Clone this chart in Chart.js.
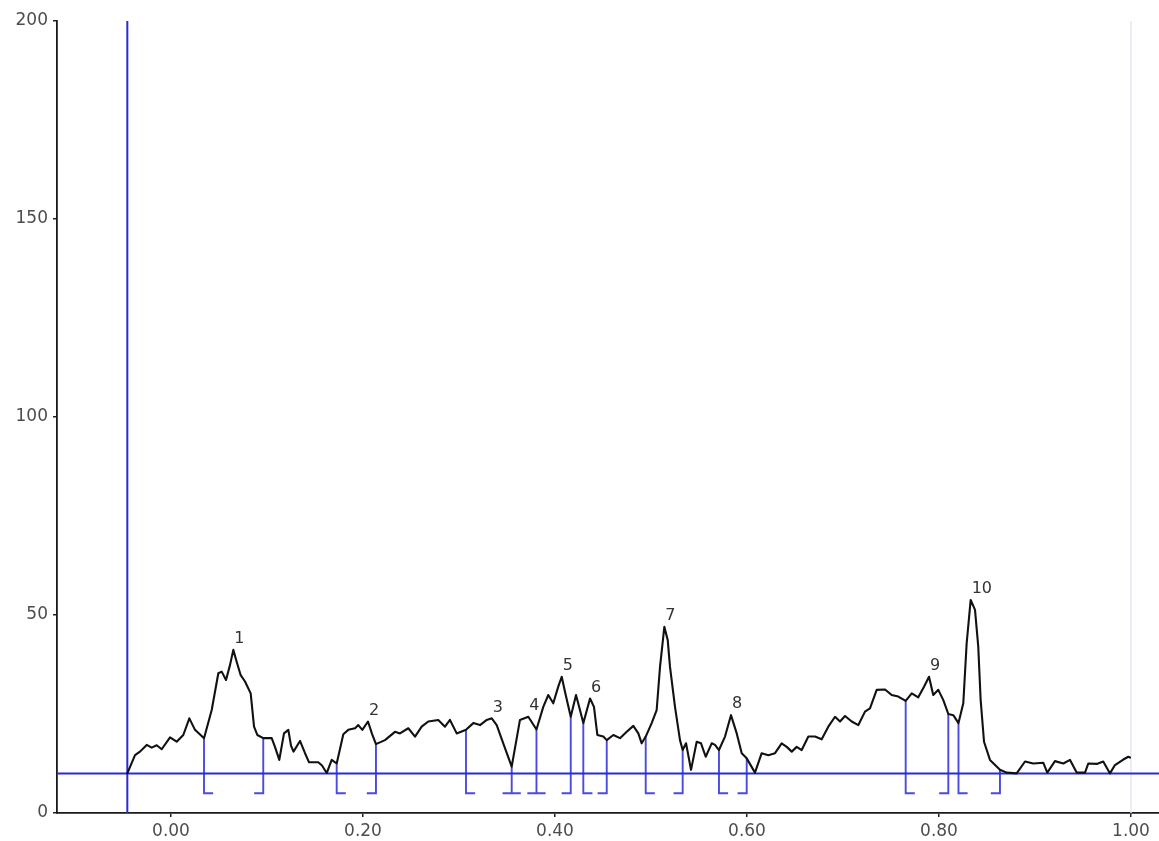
<!DOCTYPE html>
<html>
<head>
<meta charset="utf-8">
<script src="https://cdn.jsdelivr.net/npm/chart.js@4.4.1/dist/chart.umd.min.js"></script>
<style>
  html, body { margin: 0; padding: 0; background: #ffffff; }
  #wrap { width: 1159px; height: 841px; }
</style>
</head>
<body>
<div id="wrap"><canvas id="chart" width="1159" height="841"></canvas></div>
<script>
// Densitometric profile along the lane (relative front position vs. intensity)
const sigX = [
  -0.0455, -0.0375, -0.0323, -0.0253, -0.0201, -0.0149, -0.0097, -0.0010, 0.0059, 0.0128,
  0.0191, 0.0250, 0.0344, 0.0424, 0.0493, 0.0528, 0.0573, 0.0615, 0.0649, 0.0684,
  0.0726, 0.0771, 0.0830, 0.0865, 0.0899, 0.0961, 0.1049, 0.1083, 0.1128, 0.1177,
  0.1222, 0.1250, 0.1276, 0.1344, 0.1396, 0.1438, 0.1534, 0.1573, 0.1622, 0.1674,
  0.1726, 0.1795, 0.1847, 0.1917, 0.1951, 0.1993, 0.2052, 0.2094, 0.2135, 0.2229,
  0.2333, 0.2385, 0.2472, 0.2542, 0.2611, 0.2680, 0.2784, 0.2854, 0.2906, 0.2976,
  0.3073, 0.3149, 0.3219, 0.3289, 0.3341, 0.3393, 0.3461, 0.3549, 0.3635, 0.3722,
  0.3807, 0.3878, 0.3930, 0.3982, 0.4034, 0.4070, 0.4104, 0.4164, 0.4219, 0.4260,
  0.4295, 0.4365, 0.4406, 0.4441, 0.4503, 0.4539, 0.4608, 0.4677, 0.4747, 0.4816,
  0.4868, 0.4903, 0.4945, 0.5007, 0.5059, 0.5094, 0.5139, 0.5174, 0.5198, 0.5250,
  0.5302, 0.5330, 0.5365, 0.5417, 0.5476, 0.5521, 0.5570, 0.5632, 0.5667, 0.5708,
  0.5771, 0.5833, 0.5893, 0.5945, 0.5997, 0.6083, 0.6153, 0.6222, 0.6292, 0.6361,
  0.6414, 0.6466, 0.6518, 0.6570, 0.6639, 0.6708, 0.6778, 0.6847, 0.6917, 0.6969,
  0.7021, 0.7091, 0.7160, 0.7229, 0.7281, 0.7351, 0.7438, 0.7507, 0.7576, 0.7653,
  0.7716, 0.7784, 0.7844, 0.7896, 0.7940, 0.7993, 0.8045, 0.8097, 0.8149, 0.8203,
  0.8253, 0.8288, 0.8330, 0.8375, 0.8409, 0.8434, 0.8469, 0.8531, 0.8635, 0.8705,
  0.8809, 0.8896, 0.8982, 0.9086, 0.9128, 0.9208, 0.9295, 0.9365, 0.9434, 0.9521,
  0.9555, 0.9643, 0.9711, 0.9781, 0.9833, 0.9920, 0.9972, 0.9990
];
const sigY = [
  10.0, 14.6, 15.5, 17.2, 16.5, 17.1, 16.1, 19.1, 18.0, 19.7,
  23.9, 21.0, 18.9, 26.0, 35.3, 35.7, 33.6, 37.4, 41.2, 38.2,
  34.8, 33.2, 30.2, 21.8, 19.7, 18.9, 18.9, 16.7, 13.4, 20.1,
  21.0, 17.0, 15.5, 18.2, 15.1, 12.8, 12.8, 12.0, 10.1, 13.4,
  12.5, 19.9, 21.0, 21.4, 22.2, 21.0, 23.1, 20.0, 17.4, 18.4,
  20.5, 20.1, 21.4, 19.3, 21.8, 23.1, 23.5, 21.8, 23.5, 20.1,
  21.0, 22.7, 22.2, 23.5, 23.9, 22.2, 17.6, 11.7, 23.5, 24.3,
  21.1, 26.8, 29.8, 27.7, 31.9, 34.4, 30.6, 24.3, 29.8, 26.0,
  22.7, 28.9, 26.8, 19.7, 19.3, 18.4, 19.7, 18.9, 20.5, 22.0,
  20.1, 17.6, 19.3, 22.7, 26.0, 36.9, 47.0, 43.7, 36.9, 26.8,
  18.4, 15.9, 17.6, 10.9, 18.0, 17.6, 14.2, 17.6, 17.2, 15.9,
  19.3, 24.7, 20.1, 15.1, 13.8, 10.2, 15.1, 14.6, 15.1, 17.6,
  16.7, 15.5, 16.7, 15.9, 19.3, 19.3, 18.6, 21.8, 24.3, 23.1,
  24.5, 23.1, 22.2, 25.6, 26.4, 31.1, 31.2, 29.8, 29.4, 28.3,
  30.2, 29.2, 31.9, 34.4, 29.8, 31.1, 28.5, 25.0, 24.7, 22.7,
  27.7, 42.8, 53.8, 51.3, 42.0, 28.5, 18.0, 13.4, 10.9, 10.2,
  10.0, 13.0, 12.5, 12.7, 10.2, 13.1, 12.5, 13.4, 10.2, 10.2,
  12.5, 12.4, 13.0, 10.0, 12.1, 13.5, 14.2, 14.0
];

// Detected peaks: apex positions and numbering
const peakLabels = ['1', '2', '3', '4', '5', '6', '7', '8', '9', '10'];
const peakX = [0.0649, 0.2052, 0.3341, 0.3722, 0.4070, 0.4365, 0.5139, 0.5833, 0.7896, 0.8330];
const peakY = [41.2, 23.1, 23.9, 24.3, 34.4, 28.9, 47.0, 24.7, 34.4, 53.8];

// Integration limits of each peak
const peakStart = [0.0344, 0.1726, 0.3073, 0.3549, 0.3807, 0.4295, 0.4945, 0.5708, 0.7653, 0.8203];
const peakEnd   = [0.0961, 0.2135, 0.3549, 0.3807, 0.4164, 0.4539, 0.5330, 0.5997, 0.8097, 0.8635];

// Reference lines
const baselineLevel = 10;
const applicationPos = -0.0455;
const solventFront = 1.0;
const bracketLevel = 5;

// Axis ticks
const xTicks = [0.0, 0.2, 0.4, 0.6, 0.8, 1.0];
const yTicks = [0, 50, 100, 150, 200];

const X_MIN = -0.11875, X_MAX = 1.02917, Y_MIN = 0, Y_MAX = 200;
const BRACKET_W = 0.0095;
const BLUE = '#2a2ad8';

function signalAt(x) {
  for (let i = 1; i < sigX.length; i++) {
    if (x <= sigX[i]) {
      const t = (x - sigX[i - 1]) / (sigX[i] - sigX[i - 1]);
      return sigY[i - 1] + t * (sigY[i] - sigY[i - 1]);
    }
  }
  return sigY[sigY.length - 1];
}

const signal = sigX.map((x, i) => ({ x: x, y: sigY[i] }));

// Bracket-shaped limit markers: vertical drop from the profile, short foot inward
const brackets = [];
peakStart.forEach(x => {
  brackets.push({ x: x, y: signalAt(x) }, { x: x, y: bracketLevel }, { x: x + BRACKET_W, y: bracketLevel }, { x: x, y: null });
});
peakEnd.forEach(x => {
  brackets.push({ x: x, y: signalAt(x) }, { x: x, y: bracketLevel }, { x: x - BRACKET_W, y: bracketLevel }, { x: x, y: null });
});

const peakLabelPlugin = {
  id: 'peakLabels',
  afterDatasetsDraw(chart) {
    const { ctx, scales } = chart;
    ctx.save();
    ctx.font = '16px "DejaVu Sans", sans-serif';
    ctx.fillStyle = '#333333';
    ctx.textAlign = 'left';
    ctx.textBaseline = 'bottom';
    peakLabels.forEach((lab, i) => {
      const px = scales.x.getPixelForValue(peakX[i]);
      const py = scales.y.getPixelForValue(peakY[i]);
      ctx.fillText(lab, px + 1, py - 3);
    });
    ctx.restore();
  }
};

new Chart(document.getElementById('chart'), {
  type: 'scatter',
  data: {
    datasets: [
      {
        label: 'profile', data: signal, showLine: true, borderColor: '#111111',
        borderWidth: 2.1, borderJoinStyle: 'round', borderCapStyle: 'round',
        pointRadius: 0, tension: 0, order: 0
      },
      {
        label: 'limits', data: brackets, showLine: true, spanGaps: false,
        borderColor: 'rgba(42,42,216,0.85)', borderWidth: 1.9, pointRadius: 0, order: 1
      },
      {
        label: 'baseline', data: [{ x: X_MIN, y: baselineLevel }, { x: X_MAX, y: baselineLevel }],
        showLine: true, borderColor: BLUE, borderWidth: 2, pointRadius: 0, order: 2
      },
      {
        label: 'application', data: [{ x: applicationPos, y: Y_MIN }, { x: applicationPos, y: Y_MAX }],
        showLine: true, borderColor: BLUE, borderWidth: 2, pointRadius: 0, order: 2
      },
      {
        label: 'front', data: [{ x: solventFront, y: Y_MIN }, { x: solventFront, y: Y_MAX }],
        showLine: true, borderColor: '#e6e6f4', borderWidth: 1.5, pointRadius: 0, order: 3
      }
    ]
  },
  options: {
    responsive: false,
    animation: false,
    layout: { padding: { top: 21, right: 0, bottom: 0, left: 0 } },
    plugins: { legend: { display: false }, tooltip: { enabled: false } },
    scales: {
      x: {
        type: 'linear', min: X_MIN, max: X_MAX,
        afterBuildTicks(s) { s.ticks = xTicks.map(v => ({ value: v })); },
        afterFit(s) { s.height = 28; },
        grid: { drawOnChartArea: false, drawTicks: true, tickLength: 4, color: '#222222', lineWidth: 1.5 },
        border: { display: true, color: '#1a1a1a', width: 1.8 },
        ticks: {
          padding: 4, color: '#4d4d4d', maxRotation: 0, autoSkip: false,
          font: { family: '"DejaVu Sans", sans-serif', size: 17 },
          callback: v => Number(v).toFixed(2)
        }
      },
      y: {
        type: 'linear', min: Y_MIN, max: Y_MAX,
        afterBuildTicks(s) { s.ticks = yTicks.map(v => ({ value: v })); },
        afterFit(s) { s.width = 57; },
        grid: { drawOnChartArea: false, drawTicks: true, tickLength: 4, color: '#222222', lineWidth: 1.5 },
        border: { display: true, color: '#1a1a1a', width: 1.8 },
        ticks: {
          padding: 5, color: '#4d4d4d', autoSkip: false,
          font: { family: '"DejaVu Sans", sans-serif', size: 17 },
          callback: v => String(v)
        }
      }
    }
  },
  plugins: [peakLabelPlugin]
});
</script>
</body>
</html>
